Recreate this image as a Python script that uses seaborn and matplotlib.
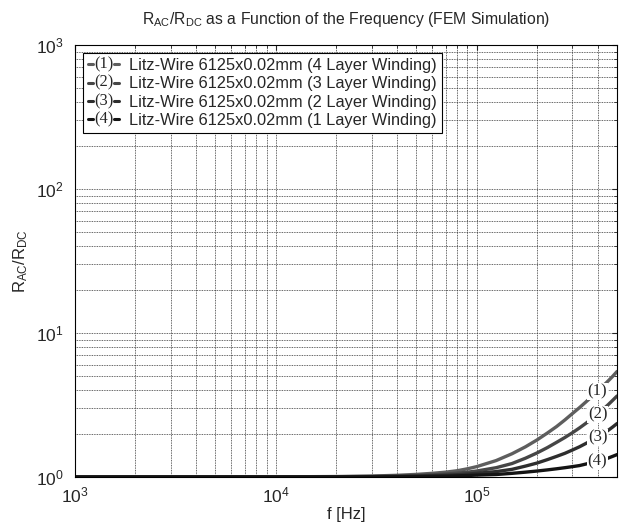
import numpy as np
import pandas as pd
import matplotlib
matplotlib.use("Agg")
import matplotlib.pyplot as plt
import seaborn as sns
from matplotlib.lines import Line2D
from matplotlib.text import Text
from matplotlib.legend_handler import HandlerBase

# frequencies [Hz] and values
freq = [1e3, 1e4, 2e4, 3e4, 4e4, 5e4, 6e4, 7e4, 8e4, 9e4,
        1e5, 1.25e5, 1.5e5, 1.75e5, 2e5, 2.25e5, 2.5e5, 2.75e5, 3e5,
        3.25e5, 3.5e5, 3.75e5, 4e5, 4.25e5, 4.5e5, 4.75e5, 5e5]
layer4 = [1.0, 1.002, 1.007, 1.015, 1.027, 1.042, 1.06, 1.08, 1.105, 1.14,
          1.18, 1.30, 1.45, 1.62, 1.81, 2.02, 2.24, 2.49, 2.76,
          3.03, 3.32, 3.62, 3.93, 4.27, 4.62, 4.99, 5.4]
layer3 = [1.0, 1.001, 1.004, 1.008, 1.015, 1.024, 1.035, 1.048, 1.063, 1.08,
          1.10, 1.16, 1.24, 1.35, 1.47, 1.60, 1.74, 1.88, 2.03,
          2.19, 2.36, 2.54, 2.73, 2.94, 3.16, 3.40, 3.65]
layer2 = [1.0, 1.001, 1.002, 1.005, 1.009, 1.014, 1.02, 1.028, 1.037, 1.048,
          1.06, 1.09, 1.13, 1.19, 1.25, 1.32, 1.39, 1.46, 1.54,
          1.62, 1.71, 1.80, 1.89, 1.99, 2.10, 2.22, 2.35]
layer1 = [1.0, 1.0, 1.001, 1.002, 1.004, 1.006, 1.009, 1.013, 1.018, 1.024,
          1.03, 1.04, 1.06, 1.08, 1.10, 1.12, 1.14, 1.16, 1.18,
          1.20, 1.23, 1.26, 1.28, 1.31, 1.35, 1.39, 1.43]

tags = ["(1)", "(2)", "(3)", "(4)"]
names = ["Litz-Wire 6125x0.02mm (4 Layer Winding)",
         "Litz-Wire 6125x0.02mm (3 Layer Winding)",
         "Litz-Wire 6125x0.02mm (2 Layer Winding)",
         "Litz-Wire 6125x0.02mm (1 Layer Winding)"]
colors = ["#5e5e5e", "#464646", "#2e2e2e", "#141414"]
tag_x = 4e5

sns.set_style("white")
plt.rcParams['font.family'] = ['Liberation Sans', 'DejaVu Sans']
plt.rcParams['mathtext.fontset'] = 'custom'
plt.rcParams['mathtext.rm'] = 'Liberation Sans'
plt.rcParams['mathtext.it'] = 'Liberation Sans:italic'

series = [layer4, layer3, layer2, layer1]
df = pd.concat([pd.DataFrame({"f": freq, "r": s, "name": n}) for s, n in zip(series, names)])

fig = plt.figure(figsize=(6.22, 5.26), dpi=100)
ax = fig.add_axes([0.1206, 0.0932, 0.8714, 0.8212])

sns.lineplot(data=df, x="f", y="r", hue="name", palette=colors, linewidth=2.4,
             legend=False, ax=ax)
ax.set_xscale("log")
ax.set_yscale("log")
ax.set_xlim(1e3, 5e5)
ax.set_ylim(1, 1e3)

ax.grid(True, which="both", linestyle=(0, (1, 1)), color="#333333", linewidth=0.6)
ax.tick_params(which="both", direction="in", top=True, right=True, labelsize=12.5)
ax.tick_params(axis="x", which="major", pad=6)
ax.tick_params(axis="y", which="major", pad=8)
for sp in ax.spines.values():
    sp.set_color("black")
    sp.set_linewidth(0.8)

ax.set_xlabel("f [Hz]", fontsize=12, labelpad=1)
ax.set_ylabel(r"R$_{\rm AC}$/R$_{\rm DC}$", fontsize=12)
ax.set_title(r"R$_{\rm AC}$/R$_{\rm DC}$ as a Function of the Frequency (FEM Simulation)",
             fontsize=11.3, pad=15)

# curve tags
for s, t in zip(series, tags):
    y = s[freq.index(tag_x)]
    ax.text(tag_x, y, t, ha="center", va="center", fontsize=12,
            family=["Liberation Serif", "DejaVu Serif"], zorder=5,
            bbox=dict(facecolor="white", edgecolor="none", pad=0.3))


class TagHandler(HandlerBase):
    def __init__(self, tag, color):
        super().__init__()
        self.tag = tag
        self.color = color

    def create_artists(self, legend, orig_handle, xdescent, ydescent,
                       width, height, fontsize, trans):
        yc = height / 2 - ydescent
        a = Line2D([-xdescent, -xdescent + 0.17 * width], [yc, yc], color=self.color,
                   lw=2.2, transform=trans)
        b = Line2D([-xdescent + 0.83 * width, -xdescent + width], [yc, yc], color=self.color,
                   lw=2.2, transform=trans)
        t = Text(-xdescent + width / 2, yc, self.tag, ha="center", va="center",
                 fontsize=fontsize, family=["Liberation Serif", "DejaVu Serif"],
                 transform=trans)
        return [a, b, t]


lines = ax.get_lines()[:4]
hmap = {ln: TagHandler(t, c) for ln, t, c in zip(lines, tags, colors)}
leg = ax.legend(lines, names, handler_map=hmap, loc="upper left", fontsize=11.8,
                handlelength=1.9, handletextpad=0.6, borderaxespad=0.5,
                labelspacing=0.2, borderpad=0.3, fancybox=False, framealpha=1)
leg.get_frame().set_edgecolor("black")
leg.get_frame().set_linewidth(0.8)

fig.savefig("out.png", dpi=100)
